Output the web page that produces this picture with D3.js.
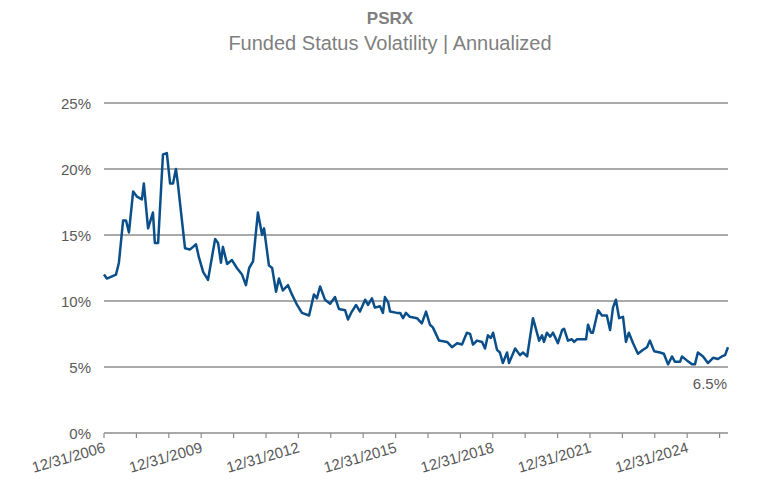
<!DOCTYPE html>
<html><head><meta charset="utf-8">
<script src="https://cdn.jsdelivr.net/npm/d3@7/dist/d3.min.js"></script>
<style>body{margin:0;background:#fff}svg{font-family:Arial,"Liberation Sans",sans-serif}</style>
</head><body><svg id="c" width="768" height="497"></svg>
<script>
// years since 12/31/2006
const yearsSince=[0,0.09,0.28,0.37,0.46,0.59,0.68,0.77,0.90,1.02,1.17,1.23,1.36,1.51,1.57,1.67,1.82,1.94,2.04,2.13,2.22,2.28,2.50,2.65,2.75,2.84,2.93,3.06,3.21,3.43,3.52,3.61,3.67,3.80,3.95,4.10,4.26,4.38,4.48,4.60,4.75,4.88,4.94,5.09,5.19,5.31,5.40,5.52,5.68,5.80,5.96,6.11,6.33,6.48,6.57,6.67,6.82,6.98,7.13,7.25,7.44,7.53,7.65,7.78,7.90,8.06,8.15,8.27,8.36,8.52,8.61,8.67,8.77,8.83,9.04,9.14,9.23,9.32,9.44,9.66,9.81,9.94,10.06,10.15,10.34,10.59,10.74,10.90,11.05,11.20,11.30,11.39,11.51,11.67,11.76,11.85,11.94,12.01,12.13,12.22,12.31,12.44,12.50,12.69,12.84,12.93,13.06,13.24,13.43,13.52,13.58,13.67,13.77,13.86,14.01,14.14,14.20,14.32,14.44,14.51,14.60,14.88,14.94,15.03,15.09,15.25,15.37,15.52,15.62,15.71,15.80,15.90,16.02,16.11,16.20,16.33,16.48,16.64,16.76,16.85,16.98,17.16,17.28,17.41,17.53,17.62,17.78,17.84,17.99,18.15,18.24,18.33,18.49,18.64,18.80,18.95,19.07,19.17,19.26];
const volatility=[12.0,11.7,11.9,12.0,12.9,16.1,16.1,15.2,18.3,17.9,17.7,18.9,15.5,16.7,14.4,14.4,21.1,21.2,18.9,18.9,20.0,18.9,14.0,13.9,14.1,14.3,13.3,12.2,11.6,14.7,14.4,12.9,14.1,12.8,13.1,12.5,12.0,11.2,12.5,13.0,16.7,15.0,15.5,12.7,12.5,10.7,11.7,10.8,11.2,10.5,9.7,9.1,8.9,10.5,10.2,11.1,10.1,9.8,10.3,9.4,9.3,8.6,9.2,9.7,9.2,10.1,9.7,10.2,9.5,9.6,9.1,10.3,9.9,9.2,9.1,9.1,8.7,9.1,8.8,8.7,8.3,9.2,8.2,8.0,7.0,6.9,6.5,6.8,6.7,7.6,7.5,6.7,7.0,6.9,6.4,7.4,7.2,7.6,6.3,6.1,5.3,6.1,5.3,6.4,5.9,6.1,5.8,8.7,7.0,7.4,6.9,7.6,7.3,7.6,6.8,7.8,7.9,7.0,7.1,6.9,7.1,7.1,8.2,7.6,7.6,9.3,8.9,8.9,7.8,9.5,10.1,8.7,8.8,6.9,7.6,6.8,6.0,6.3,6.5,7.0,6.2,6.1,6.0,5.2,5.8,5.4,5.4,5.8,5.5,5.2,5.2,6.1,5.8,5.3,5.7,5.6,5.8,5.9,6.5];
const yTicks=[0,5,10,15,20,25];
const tickYears=d3.range(0,20);
const labelYears=[0,3,6,9,12,15,18];
const lastLabel="6.5%";

const svg=d3.select("#c");
const x=d3.scaleLinear().domain([0,19.26]).range([104,728]);
const y=d3.scaleLinear().domain([0,25]).range([433,103]);
const gray="#595959";

svg.append("text").attr("x",390).attr("y",24).attr("text-anchor","middle").attr("font-size",17).attr("font-weight","bold").attr("fill","#7f7f7f").text("PSRX");
svg.append("text").attr("x",390).attr("y",50).attr("text-anchor","middle").attr("font-size",20).attr("fill","#7f7f7f").text("Funded Status Volatility | Annualized");

svg.selectAll(".g").data(yTicks.filter(d=>d>0)).join("line").attr("x1",104).attr("x2",728).attr("y1",d=>y(d)).attr("y2",d=>y(d)).attr("stroke","#8c8c8c").attr("stroke-width",1.5);
svg.selectAll(".yl").data(yTicks).join("text").attr("x",91).attr("y",d=>y(d)+6).attr("text-anchor","end").attr("font-size",15).attr("fill",gray).text(d=>d+"%");

svg.append("line").attr("x1",104).attr("x2",728).attr("y1",433).attr("y2",433).attr("stroke","#8c8c8c").attr("stroke-width",1.5);
svg.selectAll(".tk").data(tickYears).join("line").attr("x1",d=>x(d)).attr("x2",d=>x(d)).attr("y1",433).attr("y2",438).attr("stroke","#8c8c8c").attr("stroke-width",1.2);
svg.selectAll(".xl").data(labelYears).join("text").attr("transform",d=>`translate(${x(d)+2},${452}) rotate(-16)`).attr("text-anchor","end").attr("font-size",15).attr("fill",gray).text(d=>"12/31/"+(2006+d));

const pts=yearsSince.map((t,i)=>[t,volatility[i]]);
svg.append("path").datum(pts).attr("d",d3.line().x(d=>x(d[0])).y(d=>y(d[1]))).attr("fill","none").attr("stroke","#0b4f8a").attr("stroke-width",2.5).attr("stroke-linejoin","round");
svg.append("text").attr("x",727).attr("y",389).attr("text-anchor","end").attr("font-size",15).attr("fill",gray).text(lastLabel);
</script></body></html>
